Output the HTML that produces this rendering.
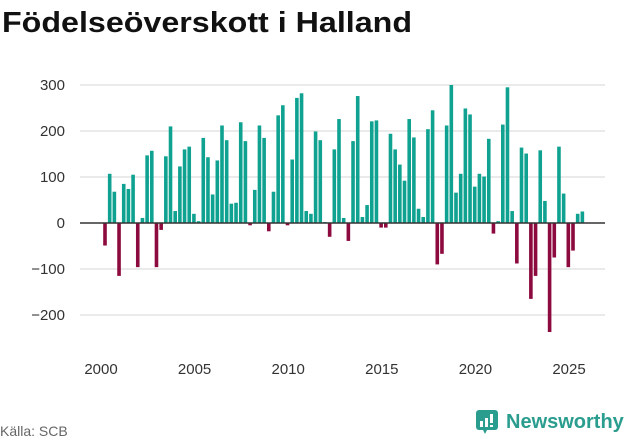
<!DOCTYPE html>
<html><head><meta charset="utf-8"><style>
body{margin:0;background:#fff;width:631px;height:439px;overflow:hidden;font-family:"Liberation Sans",sans-serif}
</style></head><body>
<svg width="631" height="439" xmlns="http://www.w3.org/2000/svg">
<text x="2" y="32" font-size="29" font-weight="bold" fill="#111" textLength="410" lengthAdjust="spacingAndGlyphs">Födelseöverskott i Halland</text>
<g id="grid"></g><g id="bars"></g><g id="axes"></g>
<text x="0" y="436" font-size="14" fill="#666">Källa: SCB</text>
<g>
<rect x="476" y="410" width="22" height="20" rx="3" fill="#2a9d8f"/>
<polygon points="483,430 487,430 485,434" fill="#2a9d8f"/>
<rect x="480" y="421" width="3" height="6" fill="#fff"/><rect x="485" y="418" width="3" height="9" fill="#fff"/><rect x="490" y="414" width="3" height="9" fill="#fff"/><rect x="490" y="425" width="3" height="2" fill="#fff"/>
<text x="506" y="428" font-size="20" font-weight="bold" fill="#2a9d8f">Newsworthy</text>
</g>
</svg>
<script>
const startYear = 2000;
const values = [-49,107,68,-115,85,74,105,-96,11,147,157,-96,-15,145,210,26,123,160,166,20,4,185,143,62,136,212,180,42,44,219,178,-5,72,212,185,-18,68,234,256,-5,138,272,282,26,20,199,180,2,-30,160,226,11,-39,178,276,13,39,221,223,-10,-10,194,160,127,92,226,186,31,13,204,245,-90,-67,212,300,66,107,249,236,79,107,101,183,-23,4,214,295,26,-88,164,151,-165,-115,158,48,-237,-75,166,64,-96,-60,20,25];
const yTicks = [-200,-100,0,100,200,300];
const xTicks = [2000,2005,2010,2015,2020,2025];
const NS="http://www.w3.org/2000/svg";
function x(yr){return 101+(yr-startYear)*18.72;}
function y(v){return 223-v*0.46;}
function mk(tag,attrs,parent){const e=document.createElementNS(NS,tag);for(const k in attrs)e.setAttribute(k,attrs[k]);document.getElementById(parent).appendChild(e);return e;}
yTicks.forEach(t=>{
  if(t!==0){const l=mk('line',{x1:80,x2:605,y1:y(t),y2:y(t),stroke:'#e3e3e3','stroke-width':1.5},'grid');
  
  }
  const tx=mk('text',{x:65,y:y(t)+5,'font-size':15,fill:'#333','text-anchor':'end'},'axes');tx.textContent=t<0?'\u2212'+(-t):t;
  
  
});
xTicks.forEach(t=>{
  const tx=mk('text',{x:x(t),y:374,'font-size':15,fill:'#333','text-anchor':'middle'},'axes');tx.textContent=t;
  
  
});
values.forEach((v,i)=>{
  const cx=x(startYear+i/4)+4;
  const r=mk('rect',{x:cx-1.8,width:3.6,y:v>=0?y(v):y(0),height:Math.abs(y(v)-y(0)),fill:v>=0?'#0fa291':'#8c0a3e'},'bars');
  
  
});
const z=mk('line',{x1:80,x2:605,y1:y(0),y2:y(0),stroke:'#333','stroke-width':1.5},'axes');


</script>
</body></html>
